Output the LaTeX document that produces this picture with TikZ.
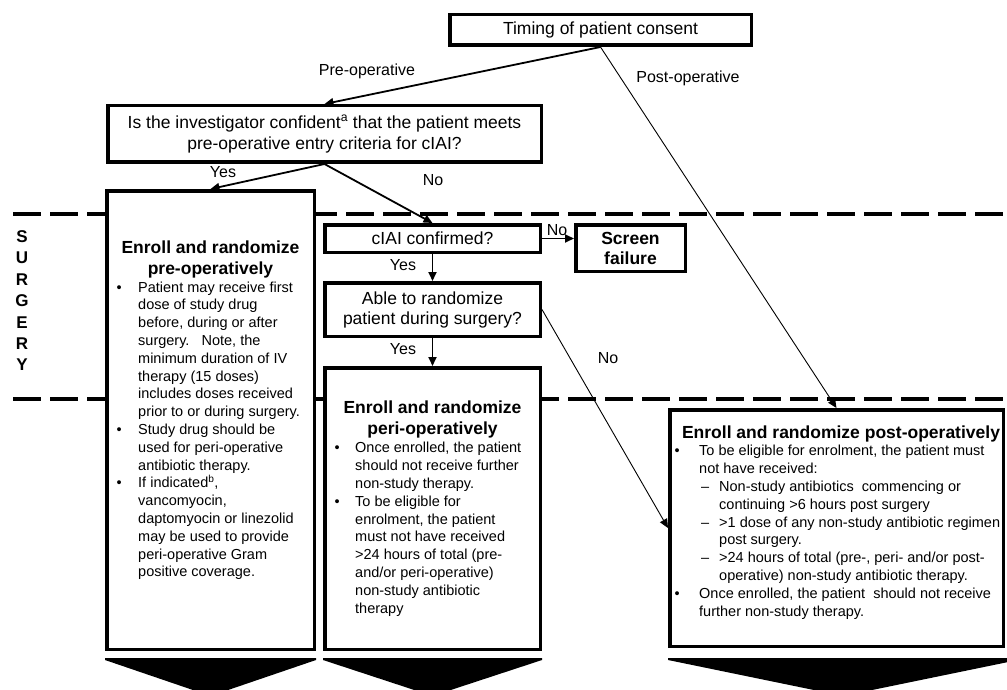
\documentclass[tikz,border=0pt]{standalone}
\usepackage{fontspec}
\setmainfont{Liberation Sans}
\usetikzlibrary{arrows.meta}
\newcommand\bodyf{\fontsize{14.5}{17.8}\selectfont}
\newcommand\titlef{\bfseries\fontsize{17.5}{21}\selectfont}
\newcommand\mainf{\fontsize{17.5}{21}\selectfont}
\newcommand\lblf{\fontsize{16}{19}\selectfont}
\newcommand\bul[2]{\makebox[#1][l]{•}#2}
\newcommand\cnt[2]{\hspace*{#1}#2}
\tikzset{
  box/.style={draw, line width=3.5pt, fill=white, inner sep=0pt, align=center, font=\mainf},
  arr/.style={line width=1.8pt, -{Triangle[length=9pt,width=8pt]}},
  thinarr/.style={line width=0.9pt, -{Triangle[length=9pt,width=8pt]}},
  dashline/.style={line width=3.5pt, dash pattern=on 28pt off 9pt},
  txt/.style={inner sep=0pt, align=left, anchor=north west, font=\bodyf},
  ttl/.style={inner sep=0pt, align=center, anchor=north, font=\titlef},
  lbl/.style={inner sep=0pt, font=\lblf},
  chev/.style={fill=black}
}
\begin{document}
\begin{tikzpicture}[x=1pt,y=-1pt]
\useasboundingbox (0,0) rectangle (1007,690);
\clip (0,0) rectangle (1007,690);
\fill[white] (0,0) rectangle (1007,690);
% surgery band
\draw[dashline] (13,214) -- (1007,214);
\draw[dashline] (13,399) -- (1007,399);
\node[inner sep=0pt, align=center, font=\bfseries\fontsize{17}{21.4}\selectfont] (surg) at (22,300.8) {S\\U\\R\\G\\E\\R\\Y};
% boxes
\node[box, minimum width=301.5pt, minimum height=30.5pt] (timing) at (600.5,30) {Timing of patient consent};
\node[box, minimum width=433.5pt, minimum height=56.5pt] (quest) at (324.5,134)
  {Is the investigator confident\textsuperscript{a} that the patient meets\\pre-operative entry criteria for cIAI?};
\node[box, minimum width=215.5pt, minimum height=27.5pt] (cia) at (432.5,238.5) {cIAI confirmed?};
\node[box, minimum width=109.5pt, minimum height=46.5pt, font=\bfseries\fontsize{17.5}{20}\selectfont] (scr) at (630.5,248) {Screen\\failure};
\node[box, minimum width=215.5pt, minimum height=53.5pt, font=\fontsize{17.5}{20}\selectfont] (able) at (432.5,309.5) {Able to randomize\\patient during surgery?};
\node[box, minimum width=207.5pt, minimum height=458.5pt] (pre) at (210.5,420) {};
\node[box, minimum width=215.5pt, minimum height=281.5pt] (peri) at (432.5,508.5) {};
\node[box, minimum width=333.5pt, minimum height=236.5pt] (post) at (836.5,528) {};
% box texts
\node[ttl] (pretitle) at (210.5,238.8) {\strut Enroll and randomize\\pre-operatively};
\node[txt] (prebody) at (116.5,279.5) {%
\bul{21.5pt}{\strut Patient may receive first}\\
\cnt{21.5pt}{dose of study drug}\\
\cnt{21.5pt}{before, during or after}\\
\cnt{21.5pt}{surgery.\ \ \ Note, the}\\
\cnt{21.5pt}{minimum duration of IV}\\
\cnt{21.5pt}{therapy (15 doses)}\\
\cnt{21.5pt}{includes doses received}\\
\cnt{21.5pt}{prior to or during surgery.}\\
\bul{21.5pt}{Study drug should be}\\
\cnt{21.5pt}{used for peri-operative}\\
\cnt{21.5pt}{antibiotic therapy.}\\
\bul{21.5pt}{If indicated\textsuperscript{b},}\\
\cnt{21.5pt}{vancomyocin,}\\
\cnt{21.5pt}{daptomyocin or linezolid}\\
\cnt{21.5pt}{may be used to provide}\\
\cnt{21.5pt}{peri-operative Gram}\\
\cnt{21.5pt}{positive coverage.}};
\node[ttl] (perititle) at (432.5,398.8) {\strut Enroll and randomize\\peri-operatively};
\node[txt] (peribody) at (334.5,440.3) {%
\bul{20.5pt}{\strut Once enrolled, the patient}\\
\cnt{20.5pt}{should not receive further}\\
\cnt{20.5pt}{non-study therapy.}\\
\bul{20.5pt}{To be eligible for}\\
\cnt{20.5pt}{enrolment, the patient}\\
\cnt{20.5pt}{must not have received}\\
\cnt{20.5pt}{>24 hours of total (pre-}\\
\cnt{20.5pt}{and/or peri-operative)}\\
\cnt{20.5pt}{non-study antibiotic}\\
\cnt{20.5pt}{therapy}};
\node[ttl] (posttitle) at (841,423.8) {\strut Enroll and randomize post-operatively};
\node[txt] (postbody) at (674.5,443.3) {%
\bul{24.5pt}{\strut To be eligible for enrolment, the patient must}\\
\cnt{24.5pt}{not have received:}\\
\cnt{24.5pt}{\makebox[20pt][l]{\hspace{2pt}–}Non-study antibiotics\ \ commencing or}\\
\cnt{44.5pt}{continuing >6 hours post surgery}\\
\cnt{24.5pt}{\makebox[20pt][l]{\hspace{2pt}–}>1 dose of any non-study antibiotic regimen}\\
\cnt{44.5pt}{post surgery.}\\
\cnt{24.5pt}{\makebox[20pt][l]{\hspace{2pt}–}>24 hours of total (pre-, peri- and/or post-}\\
\cnt{44.5pt}{operative) non-study antibiotic therapy.}\\
\bul{24.5pt}{Once enrolled, the patient\ \ should not receive}\\
\cnt{24.5pt}{further non-study therapy.}};
% connectors
\draw[arr] (timing.south) -- (quest.north);
\draw[thinarr] (timing.south) -- (post.north);
\draw[arr] (quest.south) -- (pre.north);
\draw[arr] (quest.south) -- (cia.north);
\draw[arr] (cia.east) -- (cia.east -| scr.west);
\draw[arr] (cia.south) -- (able.north);
\draw[arr] (able.south) -- (peri.north);
\draw[thinarr] (able.east) -- (post.west);
% labels
\node[lbl] (lpre) at (367,71) {Pre-operative};
\node[lbl] (lpost) at (688,78) {Post-operative};
\node[lbl] (lyes1) at (223,172) {Yes};
\node[lbl] (lno1) at (433,180) {No};
\node[lbl] (lno2) at (557,230) {No};
\node[lbl] (lyes2) at (403,265) {Yes};
\node[lbl] (lyes3) at (403,349) {Yes};
\node[lbl] (lno3) at (608,358) {No};
% chevrons
\fill[chev] (105,658) -- (316,658) -- (316,660) -- (210.5,696) -- (105,660) -- cycle;
\fill[chev] (323,658) -- (542,658) -- (542,660) -- (432.5,696) -- (323,660) -- cycle;
\fill[chev] (668,658) -- (1018,658) -- (1018,660) -- (843,696) -- (668,660) -- cycle;
\end{tikzpicture}
\end{document}
